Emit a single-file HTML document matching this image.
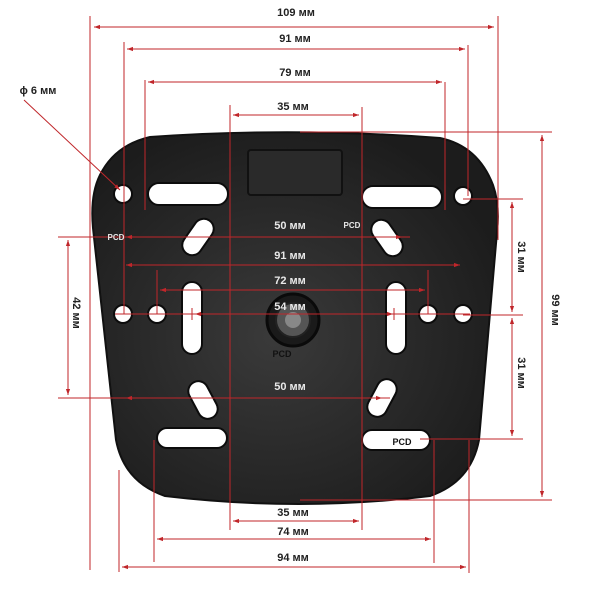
<!DOCTYPE html>
<html><head><meta charset="utf-8"><style>
html,body{margin:0;padding:0;background:#fff;}
svg{display:block}
text{font-family:"Liberation Sans",sans-serif;font-weight:bold;}
</style></head><body>
<svg width="600" height="600" viewBox="0 0 600 600" xmlns="http://www.w3.org/2000/svg">
<defs>
<marker id="a" viewBox="0 0 10 10" refX="10" refY="5" markerWidth="6" markerHeight="6" orient="auto-start-reverse"><path d="M0,1.5 L10,5 L0,8.5z" fill="#c0262a"/></marker>
<radialGradient id="g" cx="0.45" cy="0.55" r="0.6"><stop offset="0" stop-color="#3a3a3a"/><stop offset="1" stop-color="#1c1c1c"/></radialGradient>
</defs>
<!-- plate -->
<path d="M150 137 Q293 127 440 138 Q478 146 493 185 Q500 205 497 232 L479 440 Q471 482 430 496 Q300 512 165 496 Q124 482 116 440 L93 228 Q90 195 100 175 Q115 145 150 137Z" fill="url(#g)" stroke="#111" stroke-width="2"/>
<rect x="248" y="150" width="94" height="45" rx="3" fill="#2a2a2a" stroke="#111" stroke-width="2"/>
<g fill="#fff" stroke="#0c0c0c" stroke-width="2">
<circle cx="123" cy="194" r="9"/><circle cx="463" cy="196" r="9"/>
<circle cx="123" cy="314" r="9"/><circle cx="157" cy="314" r="9"/>
<circle cx="428" cy="314" r="9"/><circle cx="463" cy="314" r="9"/>
<rect x="148" y="183" width="80" height="22" rx="11"/>
<rect x="362" y="186" width="80" height="22" rx="11"/>
<rect x="157" y="428" width="70" height="20" rx="10"/>
<rect x="362" y="430" width="68" height="20" rx="10"/>
<rect x="182" y="282" width="20" height="72" rx="10"/>
<rect x="386" y="282" width="20" height="72" rx="10"/>
<rect x="188" y="217" width="20" height="40" rx="10" transform="rotate(35 198 237)"/>
<rect x="377" y="218" width="20" height="40" rx="10" transform="rotate(-35 387 238)"/>
<rect x="193" y="380" width="20" height="40" rx="10" transform="rotate(-28 203 400)"/>
<rect x="372" y="378" width="20" height="40" rx="10" transform="rotate(28 382 398)"/>
</g>
<circle cx="293" cy="320" r="26" fill="#1a1a1a" stroke="#0a0a0a" stroke-width="3"/>
<circle cx="293" cy="320" r="17" fill="#555" stroke="#222" stroke-width="2"/>
<circle cx="293" cy="320" r="8" fill="#888"/>
<!-- dimension lines -->
<g stroke="#c0262a" stroke-width="1" fill="none">
<line x1="90" y1="16" x2="90" y2="570"/><line x1="498" y1="16" x2="498" y2="240"/>
<line x1="124" y1="42" x2="124" y2="314"/><line x1="468" y1="45" x2="468" y2="196"/>
<line x1="145" y1="80" x2="145" y2="210"/><line x1="445" y1="82" x2="445" y2="210"/>
<line x1="230" y1="105" x2="230" y2="530"/><line x1="362" y1="107" x2="362" y2="530"/>
<line x1="154" y1="440" x2="154" y2="562"/><line x1="434" y1="440" x2="434" y2="563"/>
<line x1="119" y1="470" x2="119" y2="572"/><line x1="469" y1="440" x2="469" y2="573"/>
<line x1="94" y1="27" x2="494" y2="27" marker-start="url(#a)" marker-end="url(#a)"/>
<line x1="127" y1="49" x2="465" y2="49" marker-start="url(#a)" marker-end="url(#a)"/>
<line x1="148" y1="82" x2="442" y2="82" marker-start="url(#a)" marker-end="url(#a)"/>
<line x1="233" y1="115" x2="359" y2="115" marker-start="url(#a)" marker-end="url(#a)"/>
<line x1="233" y1="521" x2="359" y2="521" marker-start="url(#a)" marker-end="url(#a)"/>
<line x1="157" y1="539" x2="431" y2="539" marker-start="url(#a)" marker-end="url(#a)"/>
<line x1="122" y1="567" x2="466" y2="567" marker-start="url(#a)" marker-end="url(#a)"/>
<!-- right -->
<line x1="300" y1="132" x2="552" y2="132"/><line x1="300" y1="500" x2="552" y2="500"/>
<line x1="463" y1="199" x2="523" y2="199"/><line x1="463" y1="315" x2="523" y2="315"/><line x1="420" y1="439" x2="523" y2="439"/>
<line x1="542" y1="135" x2="542" y2="497" marker-start="url(#a)" marker-end="url(#a)"/>
<line x1="512" y1="202" x2="512" y2="312" marker-start="url(#a)" marker-end="url(#a)"/>
<line x1="512" y1="318" x2="512" y2="436" marker-start="url(#a)" marker-end="url(#a)"/>
<!-- left -->
<line x1="58" y1="237" x2="410" y2="237"/><line x1="58" y1="398" x2="390" y2="398"/>
<line x1="68" y1="240" x2="68" y2="395" marker-start="url(#a)" marker-end="url(#a)"/>
<line x1="126" y1="237" x2="402" y2="237" marker-start="url(#a)" marker-end="url(#a)"/>
<line x1="126" y1="398" x2="382" y2="398" marker-start="url(#a)" marker-end="url(#a)"/>
<line x1="126" y1="265" x2="460" y2="265" marker-start="url(#a)" marker-end="url(#a)"/>
<line x1="157" y1="270" x2="157" y2="314"/><line x1="428" y1="270" x2="428" y2="314"/>
<line x1="160" y1="290" x2="425" y2="290" marker-start="url(#a)" marker-end="url(#a)"/>
<line x1="115" y1="314" x2="470" y2="314"/>
<line x1="195" y1="314" x2="393" y2="314" marker-start="url(#a)" marker-end="url(#a)"/>
<line x1="192" y1="308" x2="192" y2="320"/><line x1="394" y1="308" x2="394" y2="320"/>
<line x1="24" y1="100" x2="120" y2="190" marker-end="url(#a)"/>
</g>
<!-- labels -->
<g font-size="11" fill="#222" text-anchor="middle">
<text x="296" y="16">109 мм</text>
<text x="295" y="42">91 мм</text>
<text x="295" y="76">79 мм</text>
<text x="293" y="110">35 мм</text>
<text x="293" y="516">35 мм</text>
<text x="293" y="535">74 мм</text>
<text x="293" y="561">94 мм</text>
<text x="38" y="94">ϕ 6 мм</text>
<text transform="translate(518 257) rotate(90)">31 мм</text>
<text transform="translate(518 373) rotate(90)">31 мм</text>
<text transform="translate(552 310) rotate(90)">99 мм</text>
<text transform="translate(73 313) rotate(90)">42 мм</text>
</g>
<g font-size="11" fill="#e8e8e8" text-anchor="middle">
<text x="290" y="229">50 мм</text>
<text x="290" y="259">91 мм</text>
<text x="290" y="284">72 мм</text>
<text x="290" y="310">54 мм</text>
<text x="290" y="390">50 мм</text>
</g>
<g font-size="8" fill="#e8e8e8" text-anchor="middle">
<text x="116" y="240">PCD</text><text x="352" y="228">PCD</text>
</g>
<g font-size="9" fill="#111" text-anchor="middle">
<text x="282" y="357">PCD</text><text x="402" y="445">PCD</text>
</g>
</svg>
</body></html>
